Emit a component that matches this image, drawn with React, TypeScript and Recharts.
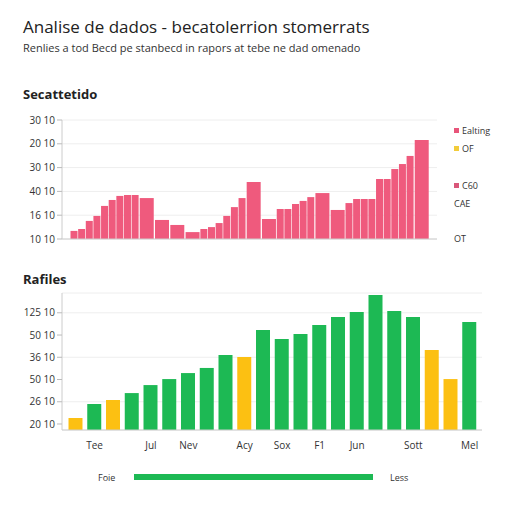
import { BarChart, Bar, XAxis, YAxis, CartesianGrid, Cell, Rectangle } from "recharts";

// top chart: one value per bar, span = how many narrow slots the bar covers
const topValues = [
  0.34, 0.42, 0.76, 0.97, 1.39, 1.64, 1.81, 1.85, 1.85,
  1.72, 0.8, 0.59, 0.29,
  0.42, 0.5, 0.67, 0.97, 1.34, 1.72,
  2.39, 0.84,
  1.26, 1.26, 1.47, 1.6, 1.76,
  1.93, 1.22,
  1.51, 1.68, 1.68, 1.68, 2.52, 2.52, 2.94, 3.15, 3.49,
  4.16,
];
const topSpans = [
  1, 1, 1, 1, 1, 1, 1, 1, 1,
  2, 2, 2, 2,
  1, 1, 1, 1, 1, 1,
  2, 2,
  1, 1, 1, 1, 1,
  2, 2,
  1, 1, 1, 1, 1, 1, 1, 1, 1,
  2,
];
const topTicks = [0, 1, 2, 3, 4, 5];
const topTickLabels = ["10 10", "16 10", "40 10", "30 10", "20 10", "30 10"];
const topLegend = [
  { label: "Ealting", color: "#e8557a" },
  { label: "OF", color: "#f2cc3a" },
  { label: "C60", color: "#d9577a" },
  { label: "CAE", color: null },
  { label: "OT", color: null },
];

// bottom chart
const months = [
  "", "Tee", "", "", "Jul", "", "Nev", "", "", "Acy", "",
  "Sox", "", "F1", "", "Jun", "", "", "Sott", "", "", "Mel",
];
const bottomValues = [
  0.54, 1.17, 1.35, 1.66, 2.02, 2.29, 2.56, 2.79, 3.37, 3.28, 4.5,
  4.09, 4.32, 4.72, 5.08, 5.31, 6.07, 5.35, 5.08, 3.6, 2.29, 4.86,
];
const lowMonths = [0, 2, 9, 19, 20];
const bottomTicks = [0.27, 1.27, 2.27, 3.27, 4.27, 5.27];
const bottomTickLabels = ["20 10", "26 10", "50 10", "36 10", "50 10", "125 10"];

const PINK = "#ef5a7d";
const GREEN = "#1db954";
const YELLOW = "#fcc012";

// expand bars into narrow slots; a wide bar leaves its second slot empty
const topData: { slot: number; value: number | null; span: number }[] = [];
topValues.forEach((v, i) => {
  topData.push({ slot: topData.length, value: v, span: topSpans[i] });
  for (let k = 1; k < topSpans[i]; k++) topData.push({ slot: topData.length, value: null, span: 0 });
});

const bottomData = months.map((m, i) => ({ month: m, key: i, value: bottomValues[i] }));

const WideBar = (props: any) => {
  const { x, y, width, height, payload, fill } = props;
  if (payload.span > 1) {
    return <Rectangle x={x + 0.5} y={y} width={width * payload.span} height={height} fill={fill} />;
  }
  return <Rectangle x={x} y={y} width={width} height={height} fill={fill} />;
};

const tickStyle = { fill: "#333", fontSize: 10 };
const legendTops = [125, 143, 180, 198, 233];

export default function App() {
  return (
    <div
      style={{
        position: "absolute",
        left: 0,
        top: 0,
        width: 512,
        height: 512,
        background: "#fff",
        overflow: "hidden",
        fontFamily: '"Open Sans", sans-serif',
        color: "#222",
      }}
    >
      <div style={{ position: "absolute", left: 23, top: 18, fontSize: 17, lineHeight: "17px", whiteSpace: "nowrap" }}>
        Analise de dados - becatolerrion stomerrats
      </div>
      <div style={{ position: "absolute", left: 23, top: 42, fontSize: 11, lineHeight: "11px", color: "#333", whiteSpace: "nowrap" }}>
        Renlies a tod Becd pe stanbecd in rapors at tebe ne dad omenado
      </div>
      <div style={{ position: "absolute", left: 23, top: 88, fontSize: 13, lineHeight: "13px", fontWeight: 700 }}>
        Secattetido
      </div>

      <div style={{ position: "absolute", left: 0, top: 100 }}>
        <BarChart width={512} height={160} data={topData} margin={{ top: 20, right: 75, left: 0, bottom: 1 }} barCategoryGap={0.5}>
          <CartesianGrid vertical={false} stroke="#eee" />
          <XAxis dataKey="slot" height={20} tick={false} tickLine={false} axisLine={{ stroke: "#ccc" }} padding={{ left: 8, right: 8 }} />
          <YAxis
            width={62}
            domain={[0, 5]}
            ticks={topTicks}
            tickFormatter={(_v: number, i: number) => topTickLabels[i]}
            tick={tickStyle}
            tickSize={5}
            tickLine={{ stroke: "#bbb" }}
            axisLine={{ stroke: "#ccc" }}
          />
          <Bar dataKey="value" fill={PINK} shape={WideBar} isAnimationActive={false} />
        </BarChart>
      </div>

      {topLegend.map((item, i) => (
        <div
          key={item.label}
          style={{
            position: "absolute",
            left: 454,
            top: legendTops[i],
            fontSize: 9,
            lineHeight: "11px",
            color: "#333",
            display: "flex",
            alignItems: "center",
            whiteSpace: "nowrap",
          }}
        >
          {item.color && <span style={{ width: 5, height: 5, background: item.color, marginRight: 3, display: "inline-block" }} />}
          {item.label}
        </div>
      ))}

      <div style={{ position: "absolute", left: 23, top: 273, fontSize: 13, lineHeight: "13px", fontWeight: 700 }}>
        Rafiles
      </div>

      <div style={{ position: "absolute", left: 0, top: 280 }}>
        <BarChart width={512} height={190} data={bottomData} margin={{ top: 13, right: 30, left: 0, bottom: 15 }}>
          <CartesianGrid vertical={false} stroke="#eee" />
          <XAxis
            dataKey="key"
            height={25}
            interval={0}
            tickFormatter={(_v: number, i: number) => months[i]}
            tick={tickStyle}
            tickLine={false}
            tickMargin={6}
            axisLine={{ stroke: "#ccc" }}
            padding={{ left: 4.5, right: 3 }}
          />
          <YAxis
            width={62}
            domain={[0, 6.16]}
            ticks={bottomTicks}
            tickFormatter={(_v: number, i: number) => bottomTickLabels[i]}
            tick={tickStyle}
            tickSize={5}
            tickLine={{ stroke: "#bbb" }}
            axisLine={{ stroke: "#ccc" }}
          />
          <Bar dataKey="value" barSize={14} isAnimationActive={false}>
            {bottomData.map((d, i) => (
              <Cell key={d.key} fill={lowMonths.includes(i) ? YELLOW : GREEN} />
            ))}
          </Bar>
        </BarChart>
      </div>

      <div style={{ position: "absolute", left: 98, top: 472, fontSize: 9, lineHeight: "11px", color: "#333" }}>Foie</div>
      <div style={{ position: "absolute", left: 134, top: 474, width: 239, height: 6, background: GREEN }} />
      <div style={{ position: "absolute", left: 390, top: 472, fontSize: 9, lineHeight: "11px", color: "#333" }}>Less</div>
    </div>
  );
}
